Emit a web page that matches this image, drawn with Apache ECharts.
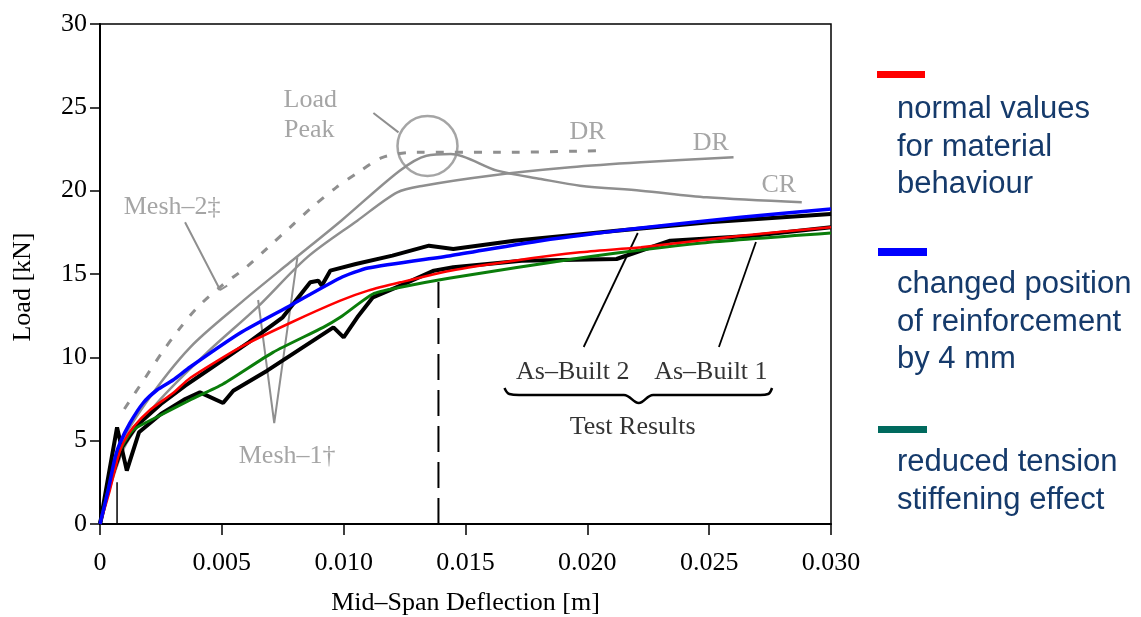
<!DOCTYPE html>
<html>
<head>
<meta charset="utf-8">
<script src="https://cdn.jsdelivr.net/npm/echarts@6/dist/echarts.min.js"></script>
<style>
  html, body { margin: 0; padding: 0; background: #fff; }
  #main { width: 1141px; height: 617px; }
</style>
</head>
<body>
<div id="main"></div>
<script>
// x: mid-span deflection [m], y: load [kN]
const xTicks = [0, 0.005, 0.010, 0.015, 0.020, 0.025, 0.030];

// grey FE curves from the original figure
const meshDashed = [[0.0010,6.9],[0.00185,8.76],[0.00255,10.3],[0.0032,11.6],[0.0040,13.0],[0.0050,14.3],[0.0060,15.4],[0.0069,16.6],[0.0078,17.8],[0.0087,19.0],[0.0097,20.2],[0.0106,21.1],[0.0116,22.0],[0.0130,22.3],[0.0164,22.3],[0.0205,22.4]];
const meshUpper = [[0,0],[0.0008,4.6],[0.0019,7.3],[0.0037,10.6],[0.0058,13.3],[0.0078,15.7],[0.0099,18.2],[0.0123,21.2],[0.0134,22.1],[0.0144,22.2],[0.0163,21.2],[0.0181,20.7],[0.0197,20.3],[0.0222,20.0],[0.0249,19.6],[0.0288,19.3]];
const meshLower = [[0,0],[0.001,4.6],[0.00234,7.26],[0.0044,10.3],[0.00645,13.0],[0.0085,16.0],[0.01056,18.2],[0.0122,19.9],[0.01327,20.3],[0.0160,20.9],[0.0193,21.4],[0.0222,21.7],[0.0260,22.0]];

// test results
const asBuilt1 = [[0,0],[0.0003,2.5],[0.0007,5.8],[0.0011,3.2],[0.0016,5.5],[0.0025,6.6],[0.0035,7.5],[0.0041,7.9],[0.00505,7.26],[0.00547,8.0],[0.00686,9.2],[0.00958,11.8],[0.0100,11.2],[0.01056,12.4],[0.0112,13.6],[0.01233,14.3],[0.0137,15.2],[0.0145,15.4],[0.0173,15.8],[0.0212,15.9],[0.0218,16.2],[0.0234,17.0],[0.0268,17.3],[0.030,17.8]];
const asBuilt2 = [[0,0],[0.0004,2.5],[0.0009,4.6],[0.0015,5.9],[0.0025,7.2],[0.0035,8.3],[0.0045,9.3],[0.0061,10.9],[0.0075,12.4],[0.00863,14.5],[0.00896,14.6],[0.0091,14.3],[0.00945,15.2],[0.0105,15.6],[0.012,16.1],[0.0135,16.7],[0.0145,16.5],[0.017,17.0],[0.0212,17.6],[0.025,18.1],[0.030,18.6]];

// new simulations
const normalValues = [[0,0],[0.0004,2.0],[0.00074,4.0],[0.00095,4.86],[0.00136,5.8],[0.00205,6.84],[0.003,7.86],[0.0037,8.76],[0.00575,10.6],[0.0078,12.06],[0.00986,13.4],[0.011,14.0],[0.01233,14.5],[0.01438,15.2],[0.017,15.8],[0.0197,16.3],[0.0222,16.6],[0.0263,17.3],[0.030,17.8]];
const changedPosition = [[0,0],[0.00033,2.0],[0.00062,4.0],[0.00082,4.86],[0.00123,6.06],[0.00177,7.26],[0.00234,8.04],[0.003,8.64],[0.0037,9.42],[0.00575,11.46],[0.0078,13.1],[0.00986,14.76],[0.011,15.36],[0.01438,16.1],[0.0181,17.0],[0.0222,17.76],[0.0263,18.4],[0.030,18.9]];
const reducedTension = [[0,0],[0.00033,2.04],[0.00062,3.66],[0.00082,4.44],[0.00136,5.64],[0.00234,6.42],[0.0037,7.44],[0.00505,8.4],[0.0071,10.3],[0.00916,11.8],[0.00986,12.4],[0.0112,13.8],[0.01233,14.2],[0.01438,14.76],[0.0197,15.96],[0.0247,16.86],[0.030,17.46]];

// annotation strokes (data coords)
const leaderMesh2 = [[0.00349,18.1],[0.00493,14.04],[0.00522,14.3]];
const leaderPeak = [[0.01122,24.66],[0.01225,23.5]];
const leaderMesh1 = [[0.00649,13.44],[0.00715,6.06],[0.0081,16.0]];
const leaderAB2 = [[0.01985,10.62],[0.02207,17.46]];
const leaderAB1 = [[0.0254,10.62],[0.02692,16.92]];
const brace = [[0.0166,8.16],[0.0168,7.8],[0.0172,7.74],[0.0215,7.74],[0.02211,7.26],[0.0227,7.74],[0.0271,7.74],[0.02742,7.8],[0.02758,8.16]];
const peakLine = [[0.01389,0],[0.01389,14.9]];
const smallTick = [[0.0007,0],[0.0007,2.5]];
const peakCircle = [0.01344,22.68];

const greyLabels = [
  ['Load', 0.00863, 25.44], ['Peak', 0.00859, 23.64], ['Mesh–2‡', 0.00296, 19.02],
  ['Mesh–1†', 0.00768, 4.08], ['DR', 0.02001, 23.52], ['DR', 0.02507, 22.86], ['CR', 0.02786, 20.34]
];
const blackLabels = [
  ['As–Built 2', 0.0194, 9.12], ['As–Built 1', 0.02507, 9.12], ['Test Results', 0.02186, 5.82]
];

const GREY = '#8f8f8f';
const SERIF = '"Liberation Serif", "DejaVu Serif", serif';
const LEGEND_FONT = '31px "Liberation Sans", Arial, sans-serif';

const chart = echarts.init(document.getElementById('main'), null, { renderer: 'canvas' });

function line(data, color, width, extra) {
  return Object.assign({
    type: 'line', data: data, symbol: 'none', silent: true,
    lineStyle: { color: color, width: width }
  }, extra || {});
}

const strokes = [leaderMesh2, leaderPeak, leaderMesh1].map(d => line(d, GREY, 2))
  .concat([leaderAB2, leaderAB1].map(d => line(d, '#000', 1.8)));

const labelData = greyLabels.map(l => ({ name: l[0], value: [l[1], l[2]], label: { color: GREY } }))
  .concat(blackLabels.map(l => ({ name: l[0], value: [l[1], l[2]], label: { color: '#000' } })));

const option = {
  animation: false,
  grid: { left: 100, right: 310, top: 24, bottom: 93, outerBoundsMode: 'none', show: true, borderColor: '#000', borderWidth: 1.5 },
  xAxis: {
    type: 'value', min: 0, max: 0.03, interval: 0.005,
    name: 'Mid–Span Deflection [m]', nameLocation: 'middle', nameGap: 66,
    nameTextStyle: { fontFamily: SERIF, fontSize: 26, color: '#000' },
    axisLine: { lineStyle: { color: '#000', width: 2 } },
    axisTick: { length: 11, lineStyle: { color: '#000', width: 1.5 } },
    axisLabel: { fontFamily: SERIF, fontSize: 26, color: '#000', margin: 26,
      formatter: v => v === 0 ? '0' : v.toFixed(3) },
    splitLine: { show: false }
  },
  yAxis: {
    type: 'value', min: 0, max: 30, interval: 5,
    name: 'Load [kN]', nameLocation: 'middle', nameGap: 64,
    nameTextStyle: { fontFamily: SERIF, fontSize: 26, color: '#000', padding: [0, 26, 0, 0] },
    axisLine: { lineStyle: { color: '#000', width: 2 } },
    axisTick: { length: 10, lineStyle: { color: '#000', width: 1.5 } },
    axisLabel: { fontFamily: SERIF, fontSize: 26, color: '#000', margin: 13 },
    splitLine: { show: false }
  },
  series: [
    line(meshDashed, GREY, 3, { smooth: 0.3, lineStyle: { color: GREY, width: 3, type: [8, 11] } }),
    line(meshUpper, GREY, 2.5, { smooth: 0.3 }),
    line(meshLower, GREY, 2.5, { smooth: 0.3 }),
    ...strokes,
    line(brace, '#000', 2.5, { smooth: 0.4 }),
    line(peakLine, '#000', 2, { lineStyle: { color: '#000', width: 2, type: [26, 10] } }),
    line(smallTick, '#000', 1.5),
    line(asBuilt1, '#000', 4),
    line(asBuilt2, '#000', 4),
    line(reducedTension, '#0a7d0a', 3, { smooth: 0.2 }),
    line(normalValues, '#ff0000', 2.5, { smooth: 0.2 }),
    line(changedPosition, '#0000ff', 3.5, { smooth: 0.2 }),
    {
      type: 'scatter', silent: true, data: [peakCircle], symbol: 'circle', symbolSize: 60,
      itemStyle: { color: 'rgba(0,0,0,0)', borderColor: GREY, borderWidth: 2.5 }
    },
    {
      type: 'scatter', silent: true, data: labelData, symbolSize: 1,
      itemStyle: { color: 'rgba(0,0,0,0)' },
      label: { show: true, position: 'inside', formatter: '{b}', fontFamily: SERIF, fontSize: 26, lineHeight: 28 }
    }
  ],
  graphic: [
    { type: 'rect', shape: { x: 877, y: 71, width: 48, height: 7 }, style: { fill: '#ff0000' } },
    { type: 'text', x: 897, y: 91, style: { text: 'normal values\nfor material\nbehaviour', fill: '#153a6b', font: LEGEND_FONT, lineHeight: 37.5 } },
    { type: 'rect', shape: { x: 878, y: 248, width: 49, height: 8 }, style: { fill: '#0000ff' } },
    { type: 'text', x: 897, y: 266, style: { text: 'changed position\nof reinforcement\nby 4 mm', fill: '#153a6b', font: LEGEND_FONT, lineHeight: 37.5 } },
    { type: 'rect', shape: { x: 878, y: 426, width: 49, height: 7 }, style: { fill: '#006a5e' } },
    { type: 'text', x: 897, y: 444, style: { text: 'reduced tension\nstiffening effect', fill: '#153a6b', font: LEGEND_FONT, lineHeight: 37.5 } }
  ]
};

chart.setOption(option);
</script>
</body>
</html>
